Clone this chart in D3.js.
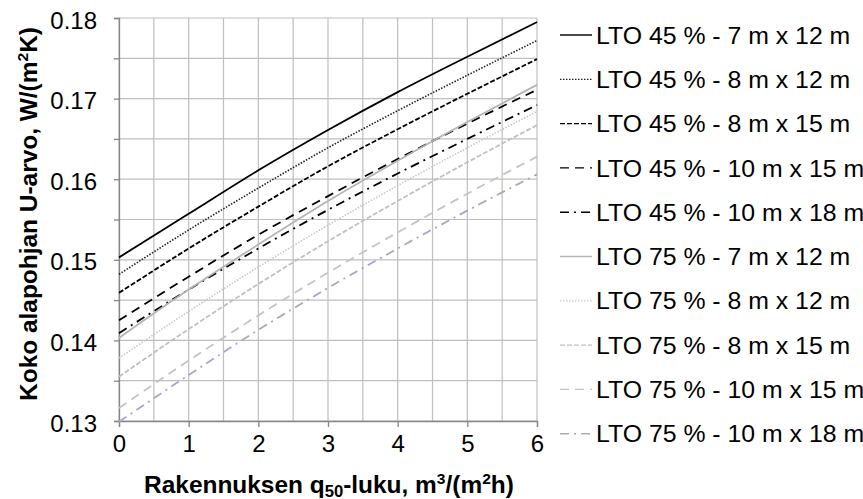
<!DOCTYPE html>
<html>
<head>
<meta charset="utf-8">
<script src="https://cdn.jsdelivr.net/npm/d3@7"></script>
<style>
  body { margin: 0; background: #fff; }
  svg text { font-family: "Liberation Sans", Arial, sans-serif; }
</style>
</head>
<body>
<svg id="chart" width="863" height="499"></svg>
<script>
// q50 values on the x axis
const q50 = [0, 1, 2, 3, 4, 5, 6];

const seriesNames = [
  "LTO 45 % - 7 m x 12 m",
  "LTO 45 % - 8 m x 12 m",
  "LTO 45 % - 8 m x 15 m",
  "LTO 45 % - 10 m x 15 m",
  "LTO 45 % - 10 m x 18 m",
  "LTO 75 % - 7 m x 12 m",
  "LTO 75 % - 8 m x 12 m",
  "LTO 75 % - 8 m x 15 m",
  "LTO 75 % - 10 m x 15 m",
  "LTO 75 % - 10 m x 18 m"
];

// U-values, one array per series
const lto45_7x12 = [0.1503, 0.1557, 0.1611, 0.1661, 0.1708, 0.1752, 0.1795];
const lto45_8x12 = [0.1482, 0.1537, 0.1589, 0.1639, 0.1685, 0.1729, 0.1772];
const lto45_8x15 = [0.1459, 0.1514, 0.1566, 0.1616, 0.1662, 0.1706, 0.1749];
const lto45_10x15 = [0.1425, 0.1479, 0.1531, 0.1579, 0.1625, 0.1669, 0.1711];
const lto45_10x18 = [0.1409, 0.1463, 0.1514, 0.1562, 0.1607, 0.1650, 0.1692];
const lto75_7x12 = [0.1403, 0.1463, 0.1519, 0.1573, 0.1623, 0.1671, 0.1717];
const lto75_8x12 = [0.1378, 0.1436, 0.1491, 0.1543, 0.1592, 0.1639, 0.1684];
const lto75_8x15 = [0.1355, 0.1414, 0.1470, 0.1523, 0.1573, 0.1621, 0.1667];
const lto75_10x15 = [0.1316, 0.1375, 0.1431, 0.1484, 0.1534, 0.1582, 0.1628];
const lto75_10x18 = [0.1299, 0.1357, 0.1413, 0.1465, 0.1514, 0.1561, 0.1606];

const yTickLabels = ["0.13", "0.14", "0.15", "0.16", "0.17", "0.18"];
const xTickLabels = ["0", "1", "2", "3", "4", "5", "6"];

const allValues = [lto45_7x12, lto45_8x12, lto45_8x15, lto45_10x15, lto45_10x18,
  lto75_7x12, lto75_8x12, lto75_8x15, lto75_10x15, lto75_10x18];

// line styles, in the same order as the series
const styles = [
  { color: "#000", dash: null, width: 1.8 },
  { color: "#222", dash: "1.5,1.5", width: 1.6 },
  { color: "#000", dash: "5,2", width: 1.8 },
  { color: "#000", dash: "9,6", width: 1.8 },
  { color: "#000", dash: "9,5,2,5", width: 1.8 },
  { color: "#b4b4b4", dash: null, width: 1.8 },
  { color: "#c8c8c8", dash: "1.5,1.5", width: 1.6 },
  { color: "#c0c0c0", dash: "5,2", width: 1.8 },
  { color: "#c4c4c4", dash: "9,6", width: 1.8 },
  { color: "#a8a8c4", dash: "9,5,2,5", width: 1.8 }
];

const svg = d3.select("#chart");
const plotLeft = 119, plotRight = 537, plotTop = 18, plotBottom = 421;

const x = d3.scaleLinear().domain([0, 6]).range([plotLeft, plotRight]);
const y = d3.scaleLinear().domain([0.13, 0.18]).range([plotBottom, plotTop]);

// grid
const grid = svg.append("g");
grid.selectAll(".vg")
  .data(d3.range(0, 6.01, 0.5))
  .join("line")
  .attr("x1", d => x(d)).attr("x2", d => x(d))
  .attr("y1", plotTop).attr("y2", plotBottom)
  .attr("stroke", "#bfbfbf").attr("stroke-width", 1.2);
grid.selectAll(".hg")
  .data(d3.range(0.13, 0.1801, 0.005))
  .join("line")
  .attr("x1", plotLeft).attr("x2", plotRight)
  .attr("y1", d => y(d)).attr("y2", d => y(d))
  .attr("stroke", "#bfbfbf").attr("stroke-width", 1.2);

// axes
const yAxis = d3.axisLeft(y)
  .tickValues(d3.range(0.13, 0.1801, 0.005))
  .tickSize(5)
  .tickFormat(d => {
    const s = d.toFixed(3);
    return s.endsWith("0") ? yTickLabels[yTickLabels.indexOf(d.toFixed(2))] : "";
  });
const gy = svg.append("g").attr("transform", `translate(${plotLeft},0)`).call(yAxis);
gy.select(".domain").attr("stroke", "#868686").attr("stroke-width", 1.3);
gy.selectAll(".tick line").attr("stroke", "#868686").attr("stroke-width", 1.3);
gy.selectAll(".tick text")
  .attr("x", -22)
  .attr("dy", "0.42em")
  .attr("font-size", 24)
  .attr("font-family", "Liberation Sans, Arial, sans-serif")
  .attr("fill", "#000");

const xAxis = d3.axisBottom(x)
  .tickValues(q50)
  .tickSize(6)
  .tickFormat((d, i) => xTickLabels[i]);
const gx = svg.append("g").attr("transform", `translate(0,${plotBottom})`).call(xAxis);
gx.select(".domain").attr("stroke", "#868686").attr("stroke-width", 1.3);
gx.selectAll(".tick line").attr("stroke", "#868686").attr("stroke-width", 1.3);
gx.selectAll(".tick text")
  .attr("y", 14)
  .attr("font-size", 24)
  .attr("font-family", "Liberation Sans, Arial, sans-serif")
  .attr("fill", "#000");

// series lines
const line = d3.line()
  .x((d, i) => x(q50[i]))
  .y(d => y(d))
  .curve(d3.curveMonotoneX);

svg.append("g")
  .selectAll("path")
  .data(allValues)
  .join("path")
  .attr("d", d => line(d))
  .attr("fill", "none")
  .attr("stroke", (d, i) => styles[i].color)
  .attr("stroke-width", (d, i) => styles[i].width)
  .attr("stroke-dasharray", (d, i) => styles[i].dash);

// legend
const legend = svg.append("g");
const rows = legend.selectAll("g")
  .data(seriesNames)
  .join("g")
  .attr("transform", (d, i) => `translate(560,${35 + i * 44.3})`);
rows.append("line")
  .attr("x1", 0).attr("x2", 32)
  .attr("y1", 0).attr("y2", 0)
  .attr("stroke", (d, i) => styles[i].color)
  .attr("stroke-width", (d, i) => styles[i].width * 0.8)
  .attr("stroke-dasharray", (d, i) => styles[i].dash);
rows.append("text")
  .attr("transform", "translate(36,8.6) scale(1.035,1)")
  .attr("font-size", 24)
  .attr("fill", "#000")
  .text(d => d);

// axis titles
const xt = svg.append("text")
  .attr("transform", "translate(329,493) scale(1.04,1)")
  .attr("text-anchor", "middle")
  .attr("font-size", 23.5)
  .attr("font-weight", "bold");
xt.append("tspan").text("Rakennuksen q");
xt.append("tspan").attr("font-size", 16).attr("dy", 4).text("50");
xt.append("tspan").attr("dy", -4).text("-luku, m");
xt.append("tspan").attr("font-size", 15).attr("dy", -9).text("3");
xt.append("tspan").attr("dy", 9).text("/(m");
xt.append("tspan").attr("font-size", 15).attr("dy", -9).text("2");
xt.append("tspan").attr("dy", 9).text("h)");

const yt = svg.append("text")
  .attr("transform", "translate(37,214) rotate(-90) scale(1.04,1)")
  .attr("text-anchor", "middle")
  .attr("font-size", 23.5)
  .attr("font-weight", "bold");
yt.append("tspan").text("Koko alapohjan U-arvo, W/(m");
yt.append("tspan").attr("font-size", 15).attr("dy", -9).text("2");
yt.append("tspan").attr("dy", 9).text("K)");
</script>
</body>
</html>
